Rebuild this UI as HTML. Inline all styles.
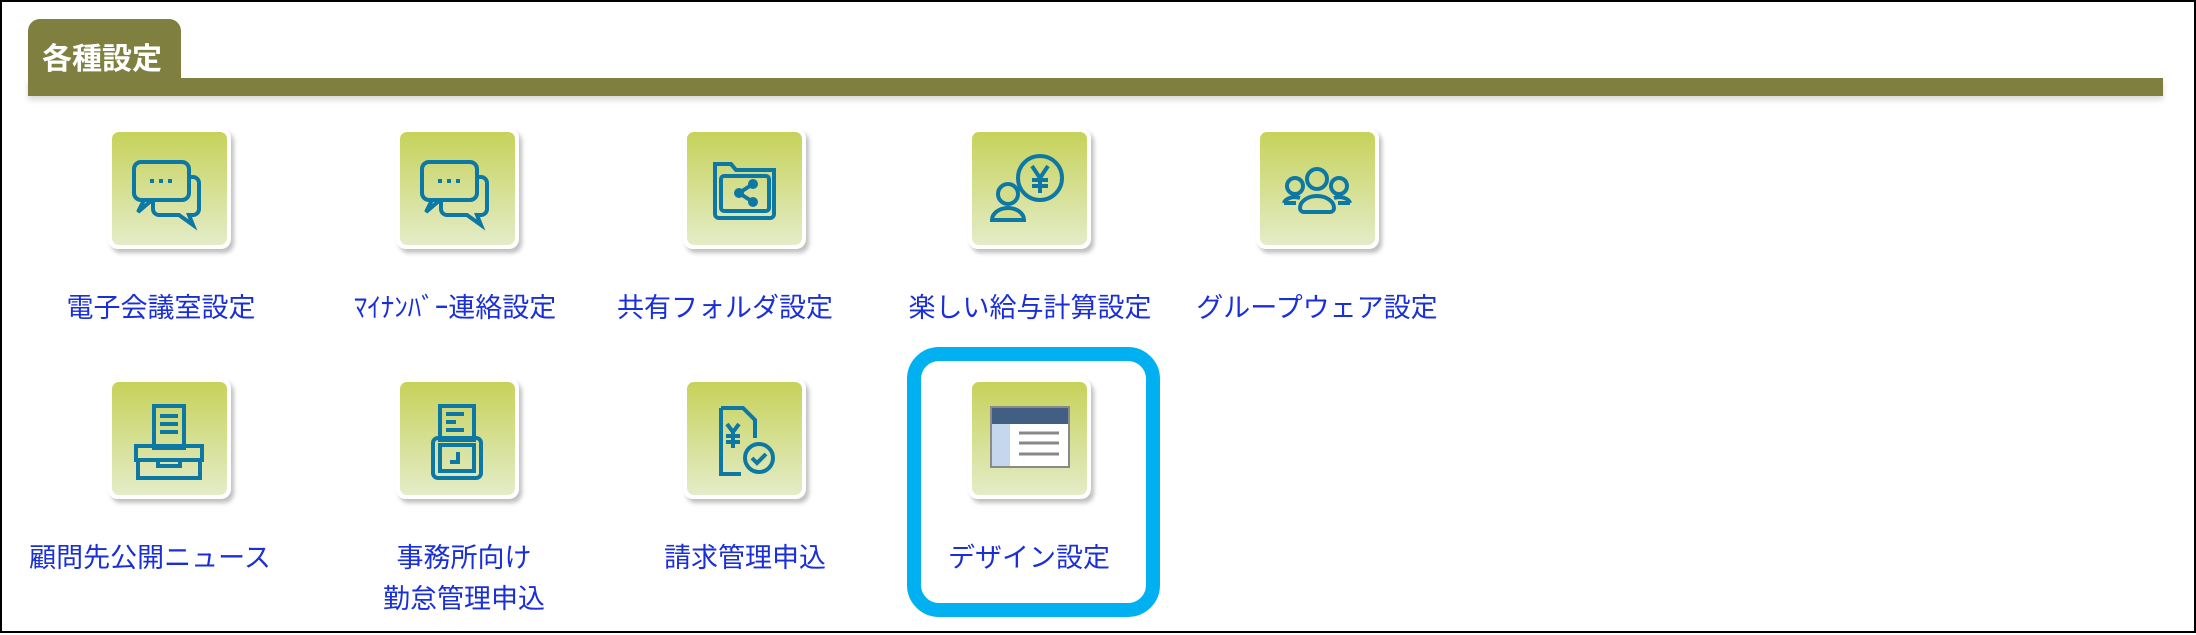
<!DOCTYPE html>
<html><head><meta charset="utf-8"><style>
*{margin:0;padding:0;box-sizing:border-box}
body{width:2196px;height:635px;background:#fff;position:relative;overflow:hidden;font-family:"Liberation Sans","Noto Sans CJK JP",sans-serif}
.frame{position:absolute;left:0;top:0;width:2196px;height:633px;border:2px solid #000}
.tab{position:absolute;left:28px;top:19px;width:153px;height:62px;background:#7f8040;border-radius:12px 12px 0 0;color:#fff;font-weight:bold;font-size:30px;padding:15px 0 0 14px}
.bar{position:absolute;left:28px;top:78px;width:2135px;height:18px;background:#7f8040;box-shadow:0 4px 6px rgba(0,0,0,.15)}
.ic{position:absolute;width:123px;height:121px;background:#fff;border-radius:10px;box-shadow:3px 4px 4px rgba(0,0,0,.25)}
.ic .in{position:absolute;left:4px;top:4px;width:115px;height:113px;border-radius:7px;background:linear-gradient(#c6d25a,#e4ecc8)}
.ic svg{position:absolute;left:4px;top:4px}
.lb{position:absolute;width:300px;text-align:center;color:#1a2fd8;font-size:27px;line-height:41px}
.hl{position:absolute;left:907px;top:347px;width:253px;height:270px;border:14px solid #00b0f0;border-radius:32px}
</style></head><body>
<div class="frame"></div>
<div class="tab">各種設定</div>
<div class="bar"></div>

<div class="ic" style="left:108px;top:128px"><div class="in"></div>
<svg width="115" height="113" fill="none" stroke="#0e78a4" stroke-width="4"><rect x="22" y="30" width="55" height="38" rx="7"/><path d="M32 68 l-6 12 14-12"/><path d="M77 45 h4 a6 6 0 0 1 6 6 v26 a6 6 0 0 1 -6 6 h-4 l4 10 -14-10 h-20 a6 6 0 0 1 -6-6 v-9"/><g fill="#0e78a4" stroke="none"><rect x="38" y="47" width="4" height="4"/><rect x="47" y="47" width="4" height="4"/><rect x="56" y="47" width="4" height="4"/></g></svg></div>
<div class="ic" style="left:396px;top:128px"><div class="in"></div>
<svg width="115" height="113" fill="none" stroke="#0e78a4" stroke-width="4"><rect x="22" y="30" width="55" height="38" rx="7"/><path d="M32 68 l-6 12 14-12"/><path d="M77 45 h4 a6 6 0 0 1 6 6 v26 a6 6 0 0 1 -6 6 h-4 l4 10 -14-10 h-20 a6 6 0 0 1 -6-6 v-9"/><g fill="#0e78a4" stroke="none"><rect x="38" y="47" width="4" height="4"/><rect x="47" y="47" width="4" height="4"/><rect x="56" y="47" width="4" height="4"/></g></svg></div>
<div class="ic" style="left:683px;top:128px"><div class="in"></div>
<svg width="115" height="113" fill="none" stroke="#0e78a4" stroke-width="4"><path d="M28 32 h16 l5 6 h38 v44 a4 4 0 0 1 -4 4 h-51 a4 4 0 0 1 -4-4 z"/><rect x="34" y="44" width="48" height="35" rx="3"/><path d="M66 52 l-14 9 14 9"/><circle cx="66" cy="52" r="3" fill="#0e78a4"/><circle cx="52" cy="61" r="3" fill="#0e78a4"/><circle cx="66" cy="70" r="3" fill="#0e78a4"/></svg></div>
<div class="ic" style="left:968px;top:128px"><div class="in"></div>
<svg width="115" height="113" fill="none" stroke="#0e78a4" stroke-width="4"><circle cx="68" cy="46" r="22"/><path d="M60 34 l8 12 8-12 M68 46 v15 M60 48 h16 M60 54 h16"/><circle cx="36" cy="62" r="10" fill="#d3dd8c"/><path d="M20 88 a16 12 0 0 1 32 0 z" fill="#d3dd8c"/></svg></div>
<div class="ic" style="left:1256px;top:128px"><div class="in"></div>
<svg width="115" height="113" fill="none" stroke="#0e78a4" stroke-width="4"><circle cx="57" cy="47" r="10"/><circle cx="35" cy="54" r="8"/><circle cx="79" cy="54" r="8"/><path d="M24 71 a11 7 0 0 1 16-5 M90 71 a11 7 0 0 0 -16-5 M24 71 h12 M78 71 h12"/><path d="M40 76 a17 12 0 0 1 34 0 v0 a4 4 0 0 1 -4 4 h-26 a4 4 0 0 1 -4-4z"/></svg></div>

<div class="lb" style="left:11px;top:288px">電子会議室設定</div>
<div class="lb" style="left:305px;top:288px">ﾏｲﾅﾝﾊﾞｰ連絡設定</div>
<div class="lb" style="left:575px;top:288px">共有フォルダ設定</div>
<div class="lb" style="left:880px;top:288px">楽しい給与計算設定</div>
<div class="lb" style="left:1167px;top:288px">グループウェア設定</div>

<div class="ic" style="left:108px;top:378px"><div class="in"></div>
<svg width="115" height="113" fill="none" stroke="#0e78a4" stroke-width="4"><rect x="42" y="24" width="30" height="42"/><path d="M48 34 h18 M48 42 h18 M48 50 h18"/><rect x="24" y="64" width="66" height="14"/><path d="M26 78 v18 h62 v-18 M46 78 v6 h22 v-6"/></svg></div>
<div class="ic" style="left:396px;top:378px"><div class="in"></div>
<svg width="115" height="113" fill="none" stroke="#0e78a4" stroke-width="4"><rect x="40" y="24" width="34" height="34"/><path d="M46 32 h18 M46 40 h10 M46 48 h18"/><rect x="33" y="56" width="48" height="40" rx="5"/><rect x="40" y="63" width="34" height="26"/><path d="M58 70 v10 h-8"/></svg></div>
<div class="ic" style="left:683px;top:378px"><div class="in"></div>
<svg width="115" height="113" fill="none" stroke="#0e78a4" stroke-width="4"><path d="M34 26 h22 l12 12 v18 M54 92 h-20 v-66"/><path d="M40 42 l6 8 6-8 M46 50 v16 M39 54 h14 M39 60 h14"/><circle cx="72" cy="76" r="14"/><path d="M65 76 l5 5 9-9"/></svg></div>
<div class="ic" style="left:968px;top:378px"><div class="in"></div>
<svg width="115" height="113"><rect x="18" y="24" width="80" height="62" fill="#8a8a8a"/><rect x="20" y="26" width="76" height="16" fill="#405f82"/><rect x="20" y="42" width="76" height="42" fill="#fff"/><rect x="20" y="42" width="18" height="42" fill="#c4d7ec"/><path d="M47 51 h40 M47 61 h40 M47 72 h40" stroke="#888" stroke-width="3"/></svg></div>

<div class="lb" style="left:0px;top:538px">顧問先公開ニュース</div>
<div class="lb" style="left:314px;top:538px">事務所向け<br>勤怠管理申込</div>
<div class="lb" style="left:595px;top:538px">請求管理申込</div>
<div class="lb" style="left:879px;top:538px">デザイン設定</div>
<div class="hl"></div>
</body></html>
